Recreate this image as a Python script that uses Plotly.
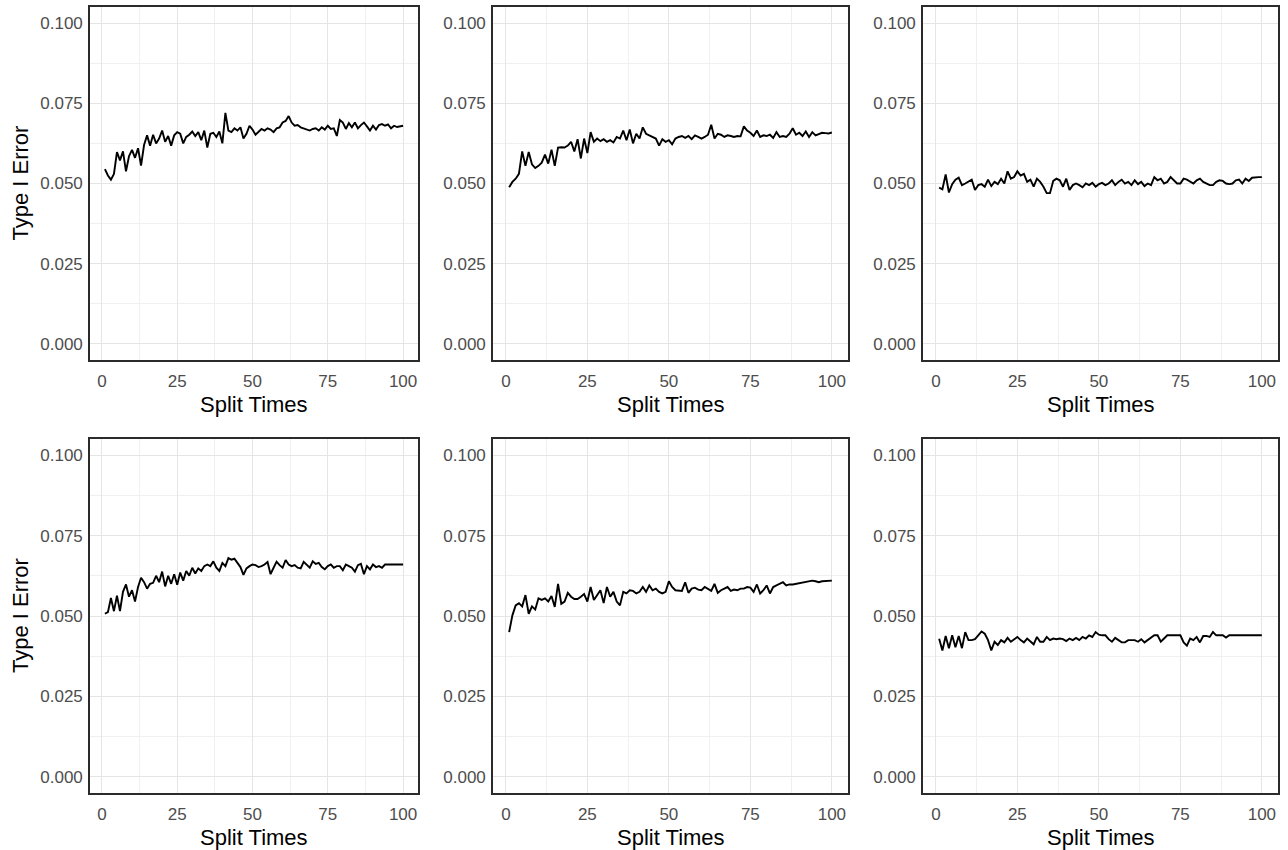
import plotly.graph_objects as go

split_times = list(range(1, 101))

err_top_left = [
    0.0545, 0.0525, 0.0512, 0.0530, 0.0598, 0.0572, 0.0600, 0.0538, 0.0585, 0.0605,
    0.0580, 0.0610, 0.0556, 0.0620, 0.0650, 0.0618, 0.0652, 0.0625, 0.0640, 0.0665,
    0.0630, 0.0648, 0.0618, 0.0650, 0.0660, 0.0655, 0.0625, 0.0645, 0.0652, 0.0662,
    0.0648, 0.0660, 0.0635, 0.0665, 0.0612, 0.0655, 0.0658, 0.0645, 0.0662, 0.0625,
    0.0720, 0.0665, 0.0660, 0.0672, 0.0665, 0.0675, 0.0640, 0.0655, 0.0680, 0.0668,
    0.0652, 0.0660, 0.0670, 0.0665, 0.0672, 0.0668, 0.0660, 0.0672, 0.0675, 0.0690,
    0.0695, 0.0710, 0.0690, 0.0680, 0.0682, 0.0675, 0.0672, 0.0668, 0.0665, 0.0670,
    0.0672, 0.0665, 0.0675, 0.0668, 0.0680, 0.0670, 0.0672, 0.0648, 0.0698, 0.0690,
    0.0670, 0.0688, 0.0675, 0.0690, 0.0672, 0.0682, 0.0690, 0.0678, 0.0665, 0.0680,
    0.0668, 0.0682, 0.0685, 0.0680, 0.0684, 0.0672, 0.0680, 0.0676, 0.0678, 0.0680,
]

err_top_mid = [
    0.0488, 0.0505, 0.0515, 0.0530, 0.0600, 0.0555, 0.0598, 0.0560, 0.0548, 0.0555,
    0.0565, 0.0590, 0.0562, 0.0605, 0.0555, 0.0612, 0.0613, 0.0612, 0.0618, 0.0630,
    0.0600, 0.0638, 0.0578, 0.0640, 0.0595, 0.0660, 0.0630, 0.0640, 0.0632, 0.0638,
    0.0630, 0.0635, 0.0628, 0.0645, 0.0640, 0.0665, 0.0635, 0.0668, 0.0625, 0.0655,
    0.0640, 0.0675, 0.0655, 0.0650, 0.0645, 0.0640, 0.0618, 0.0638, 0.0630, 0.0635,
    0.0622, 0.0640, 0.0645, 0.0648, 0.0642, 0.0648, 0.0638, 0.0650, 0.0645, 0.0640,
    0.0645, 0.0652, 0.0683, 0.0640, 0.0655, 0.0652, 0.0645, 0.0650, 0.0648, 0.0645,
    0.0648, 0.0647, 0.0678, 0.0665, 0.0658, 0.0648, 0.0665, 0.0645, 0.0650, 0.0648,
    0.0652, 0.0642, 0.0660, 0.0645, 0.0648, 0.0645, 0.0655, 0.0672, 0.0652, 0.0658,
    0.0648, 0.0662, 0.0645, 0.0660, 0.0650, 0.0655, 0.0658, 0.0657, 0.0656, 0.0659,
]

err_top_right = [
    0.0487, 0.0482, 0.0528, 0.0472, 0.0498, 0.0512, 0.0518, 0.0495, 0.0500, 0.0505,
    0.0512, 0.0480, 0.0495, 0.0498, 0.0490, 0.0512, 0.0492, 0.0505, 0.0498, 0.0515,
    0.0500, 0.0538, 0.0515, 0.0520, 0.0538, 0.0525, 0.0530, 0.0505, 0.0512, 0.0490,
    0.0515, 0.0505, 0.0490, 0.0470, 0.0470, 0.0508, 0.0515, 0.0510, 0.0490, 0.0515,
    0.0480, 0.0495, 0.0500, 0.0495, 0.0488, 0.0500, 0.0495, 0.0502, 0.0490, 0.0498,
    0.0502, 0.0495, 0.0500, 0.0510, 0.0495, 0.0505, 0.0512, 0.0500, 0.0505, 0.0495,
    0.0510, 0.0498, 0.0505, 0.0492, 0.0500, 0.0495, 0.0520, 0.0510, 0.0515, 0.0500,
    0.0505, 0.0520, 0.0510, 0.0500, 0.0500, 0.0515, 0.0512, 0.0505, 0.0500, 0.0510,
    0.0515, 0.0505, 0.0500, 0.0495, 0.0495, 0.0505, 0.0510, 0.0508, 0.0500, 0.0498,
    0.0500, 0.0510, 0.0512, 0.0500, 0.0515, 0.0508, 0.0518, 0.0520, 0.0520, 0.0520,
]

err_bot_left = [
    0.0507, 0.0512, 0.0556, 0.0515, 0.0563, 0.0515, 0.0575, 0.0598, 0.0560, 0.0580,
    0.0545, 0.0590, 0.0619, 0.0605, 0.0585, 0.0600, 0.0603, 0.0625, 0.0605, 0.0638,
    0.0592, 0.0625, 0.0600, 0.0630, 0.0597, 0.0635, 0.0610, 0.0640, 0.0625, 0.0650,
    0.0632, 0.0648, 0.0640, 0.0655, 0.0660, 0.0655, 0.0670, 0.0650, 0.0640, 0.0665,
    0.0655, 0.0680, 0.0675, 0.0678, 0.0665, 0.0652, 0.0628, 0.0648, 0.0655, 0.0660,
    0.0658, 0.0652, 0.0655, 0.0660, 0.0668, 0.0630, 0.0650, 0.0669, 0.0658, 0.0650,
    0.0674, 0.0660, 0.0655, 0.0658, 0.0650, 0.0648, 0.0668, 0.0660, 0.0650, 0.0670,
    0.0662, 0.0665, 0.0652, 0.0645, 0.0655, 0.0660, 0.0650, 0.0655, 0.0655, 0.0642,
    0.0660, 0.0655, 0.0650, 0.0638, 0.0658, 0.0662, 0.0630, 0.0655, 0.0645, 0.0660,
    0.0652, 0.0655, 0.0650, 0.0660, 0.0660, 0.0658, 0.0660, 0.0660, 0.0660, 0.0660,
]

err_bot_mid = [
    0.0450, 0.0502, 0.0533, 0.0540, 0.0530, 0.0565, 0.0507, 0.0530, 0.0520, 0.0555,
    0.0550, 0.0555, 0.0545, 0.0562, 0.0528, 0.0600, 0.0538, 0.0545, 0.0572, 0.0560,
    0.0553, 0.0553, 0.0560, 0.0568, 0.0545, 0.0590, 0.0550, 0.0565, 0.0580, 0.0540,
    0.0590, 0.0560, 0.0575, 0.0545, 0.0533, 0.0575, 0.0570, 0.0580, 0.0578, 0.0570,
    0.0575, 0.0590, 0.0575, 0.0595, 0.0580, 0.0585, 0.0575, 0.0570, 0.0575, 0.0608,
    0.0590, 0.0580, 0.0578, 0.0578, 0.0605, 0.0572, 0.0585, 0.0588, 0.0582, 0.0580,
    0.0590, 0.0585, 0.0578, 0.0600, 0.0572, 0.0580, 0.0585, 0.0590, 0.0578, 0.0582,
    0.0580, 0.0585, 0.0585, 0.0590, 0.0588, 0.0575, 0.0598, 0.0570, 0.0580, 0.0595,
    0.0570, 0.0590, 0.0595, 0.0600, 0.0605, 0.0595, 0.0598, 0.0598, 0.0600, 0.0600,
    0.0603, 0.0605, 0.0607, 0.0610, 0.0608, 0.0605, 0.0608, 0.0608, 0.0610, 0.0610,
]

err_bot_right = [
    0.0429, 0.0393, 0.0438, 0.0400, 0.0440, 0.0403, 0.0438, 0.0400, 0.0450, 0.0425,
    0.0425, 0.0428, 0.0440, 0.0452, 0.0445, 0.0425, 0.0393, 0.0420, 0.0410, 0.0425,
    0.0418, 0.0432, 0.0420, 0.0428, 0.0435, 0.0425, 0.0418, 0.0430, 0.0422, 0.0412,
    0.0435, 0.0420, 0.0420, 0.0435, 0.0425, 0.0430, 0.0428, 0.0430, 0.0428, 0.0422,
    0.0430, 0.0425, 0.0432, 0.0425, 0.0435, 0.0430, 0.0440, 0.0435, 0.0450, 0.0442,
    0.0440, 0.0440, 0.0428, 0.0420, 0.0432, 0.0425, 0.0418, 0.0418, 0.0425, 0.0425,
    0.0425, 0.0420, 0.0428, 0.0418, 0.0425, 0.0432, 0.0440, 0.0440, 0.0420, 0.0430,
    0.0440, 0.0440, 0.0440, 0.0440, 0.0440, 0.0418, 0.0408, 0.0430, 0.0425, 0.0435,
    0.0418, 0.0438, 0.0438, 0.0435, 0.0450, 0.0440, 0.0440, 0.0440, 0.0433, 0.0440,
    0.0440, 0.0440, 0.0440, 0.0440, 0.0440, 0.0440, 0.0440, 0.0440, 0.0440, 0.0440,
]

x_ticks = [0, 25, 50, 75, 100]
y_ticks = [0.000, 0.025, 0.050, 0.075, 0.100]
y_tick_labels = ["0.000", "0.025", "0.050", "0.075", "0.100"]
x_title = "Split Times"
y_title = "Type I Error"

W, H = 1288, 850
col_px = [(90, 418), (493, 848), (923, 1278)]
row_px = [(7, 360), (439, 793)]

panels = [
    (0, 0, err_top_left), (0, 1, err_top_mid), (0, 2, err_top_right),
    (1, 0, err_bot_left), (1, 1, err_bot_mid), (1, 2, err_bot_right),
]

fig = go.Figure()
layout_axes = {}
annotations = []
FONT = "Liberation Sans, Arial, sans-serif"

for i, (r, c, vals) in enumerate(panels):
    n = i + 1
    xa = "x" if n == 1 else f"x{n}"
    ya = "y" if n == 1 else f"y{n}"
    fig.add_trace(go.Scatter(x=split_times, y=vals, mode="lines",
                             line=dict(color="black", width=1.9),
                             xaxis=xa, yaxis=ya, showlegend=False,
                             hoverinfo="x+y"))
    x0, x1 = col_px[c]
    t0, t1 = row_px[r]
    xdom = [max(0.0, x0 / W), min(1.0, x1 / W)]
    ydom = [max(0.0, 1 - t1 / H), min(1.0, 1 - t0 / H)]
    common = dict(showline=True, linecolor="#2B2B2B", linewidth=1.6, mirror=True,
                  showgrid=True, gridcolor="#E5E5E5", gridwidth=1,
                  zeroline=False, ticks="",
                  tickfont=dict(family=FONT, size=17, color="#4D4D4D"))
    layout_axes["xaxis" if n == 1 else f"xaxis{n}"] = dict(
        domain=xdom, anchor=ya, range=[-3.95, 104.95],
        tickvals=x_ticks, ticktext=[str(v) for v in x_ticks],
        ticklabelstandoff=5,
        minor=dict(tickvals=[12.5, 37.5, 62.5, 87.5], showgrid=True,
                   gridcolor="#F0F0F0", gridwidth=0.8, ticks=""),
        **common)
    layout_axes["yaxis" if n == 1 else f"yaxis{n}"] = dict(
        domain=ydom, anchor=xa, range=[-0.005, 0.105],
        tickvals=y_ticks, ticktext=y_tick_labels,
        ticklabelstandoff=2,
        minor=dict(tickvals=[0.0125, 0.0375, 0.0625, 0.0875], showgrid=True,
                   gridcolor="#F0F0F0", gridwidth=0.8, ticks=""),
        **common)
    annotations.append(dict(text=x_title, xref="paper", yref="paper",
                            x=(x0 + x1) / 2 / W, y=1 - (t1 + 44) / H,
                            xanchor="center", yanchor="middle", showarrow=False,
                            font=dict(family=FONT, size=22, color="black")))
    if c == 0:
        annotations.append(dict(text=y_title, xref="paper", yref="paper",
                                x=20 / W, y=1 - (t0 + t1) / 2 / H, textangle=-90,
                                xanchor="center", yanchor="middle", showarrow=False,
                                font=dict(family=FONT, size=22, color="black")))

fig.update_layout(width=W, height=H, margin=dict(l=0, r=0, t=0, b=0),
                  paper_bgcolor="white", plot_bgcolor="white",
                  annotations=annotations, **layout_axes)

fig.write_html("out.html", config={"displayModeBar": False},
               post_script="document.body.style.margin='0px';"
                           "document.documentElement.style.overflow='hidden';")
